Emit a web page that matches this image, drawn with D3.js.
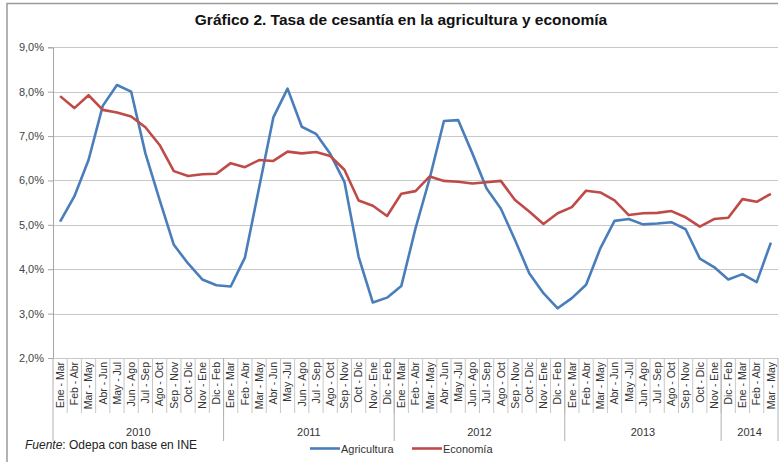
<!DOCTYPE html>
<html><head><meta charset="utf-8">
<script src="https://cdn.jsdelivr.net/npm/d3@7"></script>
<style>body{margin:0;background:#fff;}svg{display:block;font-family:"Liberation Sans",Arial,sans-serif;}</style>
</head><body>
<svg id="c" width="780" height="464"></svg>
<script>
const categories = [
 "Ene - Mar","Feb - Abr","Mar - May","Abr - Jun","May - Jul","Jun - Ago","Jul - Sep","Ago - Oct","Sep - Nov","Oct - Dic","Nov - Ene","Dic - Feb",
 "Ene - Mar","Feb - Abr","Mar - May","Abr - Jun","May -Jul","Jun - Ago","Jul - Sep","Ago - Oct","Sep - Nov","Oct - Dic","Nov - Ene","Dic - Feb",
 "Ene - Mar","Feb - Abr","Mar - May","Abr - Jun","May -Jul","Jun - Ago","Jul - Sep","Ago - Oct","Sep - Nov","Oct - Dic","Nov - Ene","Dic - Feb",
 "Ene - Mar","Feb - Abr","Mar - May","Abr - Jun","May -Jul","Jun - Ago","Jul - Sep","Ago - Oct","Sep - Nov","Oct - Dic","Nov - Ene",
 "Dic - Feb","Ene - Mar","Feb - Abr","Mar - May"
];
const years = ["2010","2011","2012","2013","2014"];
const yearCounts = [12,12,12,11,4];
const agricultura = [
 5.07,5.64,6.46,7.68,8.15,8.00,6.61,5.56,4.55,4.13,3.77,3.64,
 3.61,4.26,5.84,7.42,8.07,7.21,7.05,6.60,5.97,4.28,3.25,3.36,
 3.62,4.92,6.05,7.34,7.36,6.61,5.82,5.37,4.66,3.91,3.46,3.12,
 3.35,3.65,4.47,5.09,5.13,5.01,5.03,5.06,4.90,4.24,4.05,
 3.77,3.89,3.71,4.60
];
const economia = [
 7.90,7.63,7.92,7.59,7.53,7.44,7.20,6.80,6.21,6.10,6.14,6.15,
 6.39,6.30,6.46,6.44,6.65,6.61,6.64,6.55,6.24,5.55,5.43,5.20,
 5.70,5.76,6.09,5.99,5.97,5.93,5.96,5.99,5.56,5.30,5.02,5.26,
 5.40,5.77,5.73,5.55,5.22,5.26,5.27,5.31,5.17,4.96,5.13,
 5.16,5.58,5.52,5.70
];
const yTicks = [2,3,4,5,6,7,8,9];
const seriesNames = ["Agricultura","Economía"];
const seriesColors = ["#4a7ebb","#be4b48"];

const svg = d3.select("#c");
const L = 53, R = 778, T = 47.3, B = 358;
const idx = d3.range(categories.length);
const x = d3.scaleBand().domain(idx).range([L, R]);
const y = d3.scaleLinear().domain([2, 9]).range([B, T]);
const fmt = v => d3.format(".1f")(v).replace(".", ",") + "%";

// frame
svg.append("path").attr("d", "M7,462 V3.5 H778").attr("fill","none").attr("stroke","#9a9a9a").attr("stroke-width",1.5);

// title
svg.append("text").attr("x", 401).attr("y", 25).attr("text-anchor","middle")
  .attr("font-size", 15.5).attr("font-weight","bold").attr("fill","#111")
  .text("Gráfico 2. Tasa de cesantía en la agricultura y economía");

// gridlines
svg.append("g").selectAll("line").data(yTicks.filter(d=>d>2)).join("line")
  .attr("x1", L).attr("x2", R).attr("y1", d=>Math.round(y(d))+0.5).attr("y2", d=>Math.round(y(d))+0.5)
  .attr("stroke","#c8c8c8").attr("stroke-width",1.2);

// y axis
const yAxis = d3.axisLeft(y).tickValues(yTicks).tickFormat(fmt).tickSize(5).tickPadding(4);
const gy = svg.append("g").attr("transform", `translate(${L},0)`).call(yAxis);
gy.select(".domain").attr("stroke","#a6a6a6");
gy.selectAll(".tick line").attr("stroke","#a6a6a6");
gy.selectAll(".tick text").attr("font-size", 11).attr("fill","#444").attr("font-family","Liberation Sans, Arial, sans-serif");

// x axis baseline
svg.append("line").attr("x1", L).attr("x2", R).attr("y1", B+0.5).attr("y2", B+0.5).attr("stroke","#c8c8c8").attr("stroke-width",1.2);

// category separators
const bw = x.bandwidth();
svg.append("g").selectAll("line").data(idx.slice(1)).join("line")
  .attr("x1", d=>x(d)).attr("x2", d=>x(d)).attr("y1", B).attr("y2", 413)
  .attr("stroke","#c8c8c8").attr("stroke-width",1);

// category labels
svg.append("g").selectAll("text").data(idx).join("text")
  .attr("transform", d=>`translate(${x(d)+bw/2+3.8},${B+4}) rotate(-90)`)
  .attr("text-anchor","end").attr("font-size", 10.5).attr("fill","#333")
  .text(d=>categories[d]);

// year separators and labels
let start = 0;
const yearStarts = yearCounts.map(c => { const s = start; start += c; return s; });
svg.append("g").selectAll("line").data(yearStarts).join("line")
  .attr("x1", d=>x(d)).attr("x2", d=>x(d)).attr("y1", B).attr("y2", 441)
  .attr("stroke","#b0b0b0").attr("stroke-width",1);
svg.append("line").attr("x1", R).attr("x2", R).attr("y1", B).attr("y2", 441).attr("stroke","#b0b0b0");
svg.append("g").selectAll("text").data(years).join("text")
  .attr("x", (d,i)=> (x(yearStarts[i]) + (i<years.length-1 ? x(yearStarts[i+1]) : R))/2)
  .attr("y", 436).attr("text-anchor","middle").attr("font-size", 11).attr("fill","#333")
  .text(d=>d);

// lines
const line = d3.line().x((d,i)=>x(i)+bw/2).y(d=>y(d));
[agricultura, economia].forEach((s, k) => {
  svg.append("path").datum(s).attr("d", line).attr("fill","none")
    .attr("stroke", seriesColors[k]).attr("stroke-width", 2.6).attr("stroke-linejoin","round");
});

// source
const src = svg.append("text").attr("x", 25).attr("y", 449).attr("font-size", 12).attr("fill","#222");
src.append("tspan").attr("font-style","italic").text("Fuente");
src.append("tspan").text(": Odepa  con base en INE");

// legend
const legX = [310, 412];
seriesNames.forEach((n, k) => {
  svg.append("line").attr("x1", legX[k]).attr("x2", legX[k]+30).attr("y1", 448.5).attr("y2", 448.5)
    .attr("stroke", seriesColors[k]).attr("stroke-width", 2.6);
  svg.append("text").attr("x", legX[k]+31).attr("y", 452.5).attr("font-size", 11).attr("fill","#333").text(n);
});
</script>
</body></html>
